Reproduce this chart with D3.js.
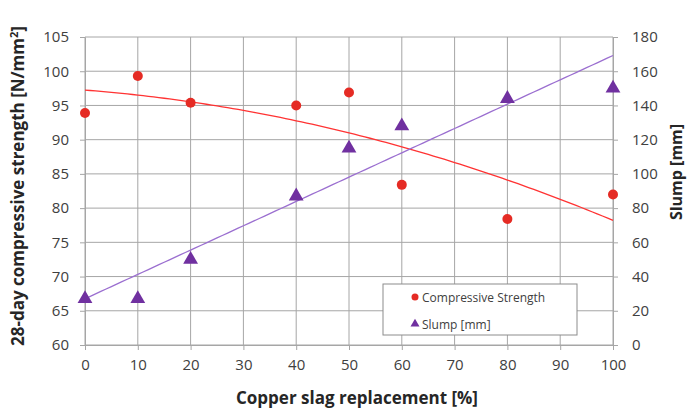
<!DOCTYPE html>
<html>
<head>
<meta charset="utf-8">
<script src="https://cdn.jsdelivr.net/npm/d3@7"></script>
<style>
  body { margin: 0; background: #fff; }
  text { font-family: "Open Sans", "Liberation Sans", sans-serif; }
</style>
</head>
<body>
<div id="chart-area"></div>
<script>
let width = 689,
    height = 411;

// data
let replacement = [0, 10, 20, 40, 50, 60, 80, 100];
let strength = [93.9, 99.3, 95.4, 95.0, 96.9, 83.4, 78.4, 82.0];
let slump = [27, 27, 50, 87, 115, 128, 144, 150];

let xTicks = [0, 10, 20, 30, 40, 50, 60, 70, 80, 90, 100];
let leftTicks = [60, 65, 70, 75, 80, 85, 90, 95, 100, 105];
let rightTicks = [0, 20, 40, 60, 80, 100, 120, 140, 160, 180];

let margin = {left: 85, right: 76, top: 37, bottom: 66};

let svg = d3.select("#chart-area").append("svg")
    .attr("width", width)
    .attr("height", height);

let x = d3.scaleLinear().domain([0, 100]).range([margin.left, width - margin.right]);
let yL = d3.scaleLinear().domain([60, 105]).range([height - margin.bottom, margin.top]);
let yR = d3.scaleLinear().domain([0, 180]).range([height - margin.bottom, margin.top]);

let gridColor = "#a6a6a6";
let textColor = "#404040";

// grid
svg.append("g").selectAll("line")
    .data(leftTicks)
    .enter().append("line")
    .attr("x1", x(0)).attr("x2", x(100))
    .attr("y1", d => yL(d)).attr("y2", d => yL(d))
    .style("stroke", gridColor);

svg.append("g").selectAll("line")
    .data(xTicks)
    .enter().append("line")
    .attr("x1", d => x(d)).attr("x2", d => x(d))
    .attr("y1", yL(60)).attr("y2", yL(105))
    .style("stroke", gridColor);

// axes
function styleAxis(g) {
  g.selectAll("path, line").style("stroke", gridColor);
  g.selectAll("text").style("fill", textColor).style("font-size", "15px");
}

svg.append("g")
    .attr("transform", "translate(0," + yL(60) + ")")
    .call(d3.axisBottom(x).tickValues(xTicks).tickSize(5).tickSizeOuter(0).tickPadding(9))
    .call(styleAxis);

svg.append("g")
    .attr("transform", "translate(" + x(0) + ",0)")
    .call(d3.axisLeft(yL).tickValues(leftTicks).tickSize(5).tickSizeOuter(0).tickPadding(11))
    .call(styleAxis);

svg.append("g")
    .attr("transform", "translate(" + x(100) + ",0)")
    .call(d3.axisRight(yR).tickValues(rightTicks).tickSize(5).tickSizeOuter(0).tickPadding(14))
    .call(styleAxis);

// trendlines (least squares from the data)
function polyFit(xs, ys, order) {
  let n = order + 1;
  let A = [];
  for (let i = 0; i < n; i++) {
    A.push([]);
    for (let j = 0; j <= n; j++) A[i].push(0);
  }
  xs.forEach(function(xv, k) {
    for (let i = 0; i < n; i++) {
      for (let j = 0; j < n; j++) A[i][j] += Math.pow(xv, i + j);
      A[i][n] += ys[k] * Math.pow(xv, i);
    }
  });
  for (let i = 0; i < n; i++) {
    for (let r = i + 1; r < n; r++) {
      let f = A[r][i] / A[i][i];
      for (let c = i; c <= n; c++) A[r][c] -= f * A[i][c];
    }
  }
  let coef = new Array(n).fill(0);
  for (let i = n - 1; i >= 0; i--) {
    let s = A[i][n];
    for (let j = i + 1; j < n; j++) s -= A[i][j] * coef[j];
    coef[i] = s / A[i][i];
  }
  return function(v) { return coef.reduce((acc, c, i) => acc + c * Math.pow(v, i), 0); };
}

let strengthFit = polyFit(replacement, strength, 2);
let slumpFit = polyFit(replacement, slump, 1);
let xs = d3.range(0, 100.5, 1);

svg.append("path")
    .datum(xs)
    .attr("d", d3.line().x(d => x(d)).y(d => yL(strengthFit(d))))
    .style("fill", "none")
    .style("stroke", "#ff3333")
    .style("stroke-width", 1.3);

svg.append("path")
    .datum(xs)
    .attr("d", d3.line().x(d => x(d)).y(d => yR(slumpFit(d))))
    .style("fill", "none")
    .style("stroke", "#9b6fd0")
    .style("stroke-width", 1.3);

// markers
let red = "#e52b24",
    purple = "#7030a0";

svg.append("g").selectAll("circle")
    .data(replacement)
    .enter().append("circle")
    .attr("cx", d => x(d))
    .attr("cy", (d, i) => yL(strength[i]))
    .attr("r", 5)
    .attr("fill", red);

let tri = d3.symbol().type(d3.symbolTriangle).size(95);
svg.append("g").selectAll("path")
    .data(replacement)
    .enter().append("path")
    .attr("d", tri)
    .attr("transform", (d, i) => "translate(" + x(d) + "," + yR(slump[i]) + ")")
    .attr("fill", purple);

// axis titles
svg.append("text")
    .attr("transform", "translate(24," + ((yL(60) + yL(105)) / 2 - 5) + ") rotate(-90)")
    .attr("text-anchor", "middle")
    .style("font-size", "17px")
    .style("font-weight", "bold")
    .style("fill", "#262626")
    .html('28-day compressive strength [N/mm<tspan dy="-6" font-size="11px">2</tspan><tspan dy="6">]</tspan>');

svg.append("text")
    .attr("x", (x(0) + x(100)) / 2 + 8)
    .attr("y", 404)
    .attr("text-anchor", "middle")
    .style("font-size", "17px")
    .style("font-weight", "bold")
    .style("fill", "#262626")
    .text("Copper slag replacement [%]");

svg.append("text")
    .attr("transform", "translate(682," + 172 + ") rotate(-90)")
    .attr("text-anchor", "middle")
    .style("font-size", "16px")
    .style("font-weight", "bold")
    .style("fill", "#262626")
    .text("Slump [mm]");

// legend
let legend = svg.append("g").attr("transform", "translate(383,284)");
legend.append("rect")
    .attr("width", 194).attr("height", 51)
    .style("fill", "#fff")
    .style("stroke", "#8c8c8c");

legend.append("circle").attr("cx", 32).attr("cy", 13).attr("r", 3.5).attr("fill", red);
legend.append("text").attr("x", 39).attr("y", 17.5)
    .style("font-size", "12px").style("fill", textColor)
    .text("Compressive Strength");

legend.append("path").attr("d", d3.symbol().type(d3.symbolTriangle).size(35))
    .attr("transform", "translate(32,40)").attr("fill", purple);
legend.append("text").attr("x", 39).attr("y", 44.5)
    .style("font-size", "12px").style("fill", textColor)
    .text("Slump [mm]");
</script>
</body>
</html>
